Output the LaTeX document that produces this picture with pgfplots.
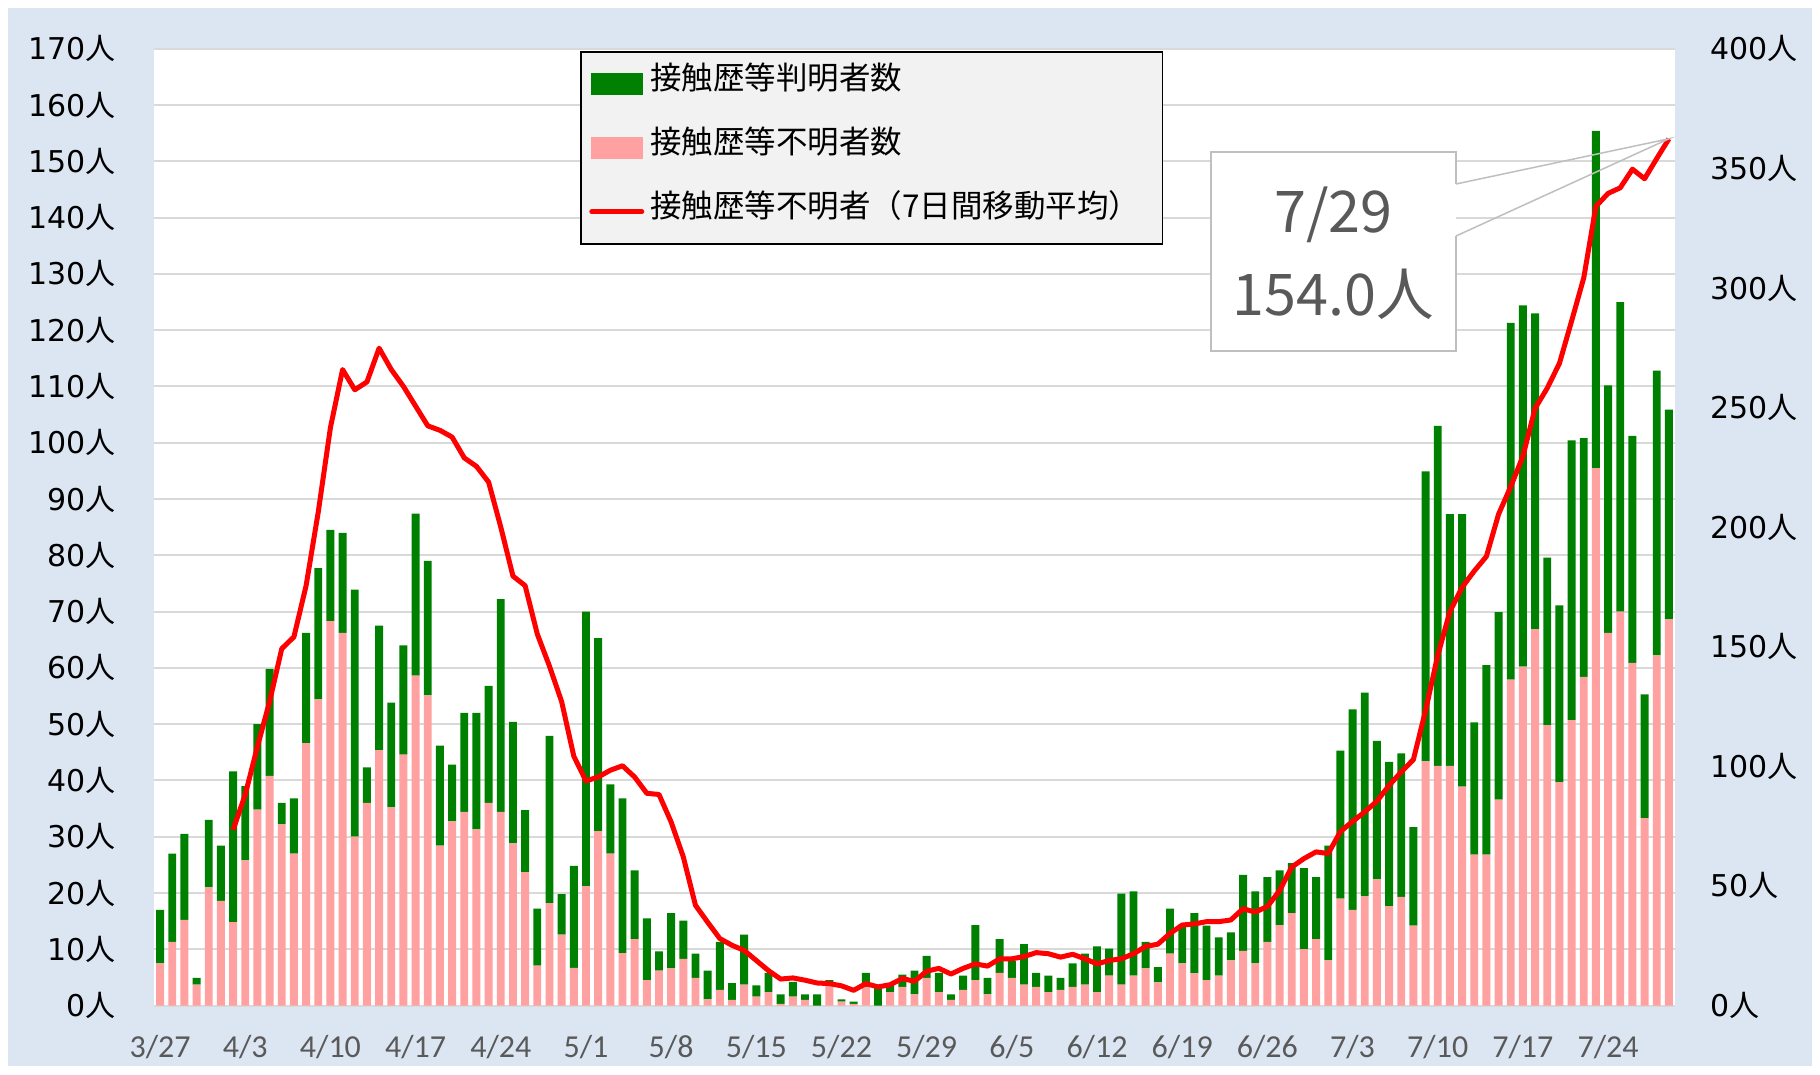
\documentclass[border=0pt]{standalone}
\usepackage{fontspec}
\usepackage{pgfplots}
\usepackage{pgfplotstable}
\pgfplotsset{compat=1.18}
\setmainfont{DejaVu Sans}
\newfontfamily\jp{Noto Sans CJK JP}
\newfontfamily\dv{DejaVu Sans}
\newfontfamily\carl{Carlito}
\definecolor{bgblue}{HTML}{DCE6F2}
\definecolor{gridgray}{HTML}{D9D9D9}
\definecolor{kgreen}{HTML}{008000}
\definecolor{unkpink}{HTML}{FFA1A1}
\definecolor{legfill}{HTML}{F2F2F2}
\definecolor{lblgray}{HTML}{595959}
\definecolor{callgray}{HTML}{BFBFBF}

\pgfplotstableread{
i unk kn
0 7.5 9.5
1 11.3 15.7
2 15.2 15.3
3 3.7 1.2
4 21 12
5 18.6 9.8
6 14.8 26.8
7 25.8 13.2
8 34.8 15.2
9 40.8 19
10 32.2 3.8
11 27 9.8
12 46.6 19.6
13 54.4 23.3
14 68.3 16.2
15 66.2 17.8
16 30 43.9
17 36 6.3
18 45.4 22.1
19 35.2 18.6
20 44.6 19.4
21 58.6 28.8
22 55.1 23.9
23 28.4 17.8
24 32.7 10.1
25 34.4 17.6
26 31.3 20.7
27 36 20.8
28 34.4 37.8
29 28.8 21.6
30 23.7 11
31 7.1 10.1
32 18.2 29.7
33 12.6 7.2
34 6.7 18.1
35 21.2 48.8
36 31 34.3
37 27 12.3
38 9.3 27.5
39 11.8 12.2
40 4.5 11
41 6.2 3.4
42 6.6 9.8
43 8.3 6.8
44 4.9 4.3
45 1.1 5.1
46 2.8 8.5
47 1 3
48 3.7 8.9
49 1.6 2
50 2.4 3.4
51 0.3 1.7
52 1.6 2.6
53 1 1
54 0 2
55 4 0.5
56 0.7 0.4
57 0.3 0.4
58 3.3 2.5
59 0 3.7
60 2.4 1.6
61 3.3 2.2
62 2 4.2
63 4.9 3.9
64 2.4 3.4
65 1 1
66 2.8 2.5
67 4.5 9.8
68 2 2.9
69 5.8 6
70 4.9 3
71 3.7 7.2
72 3.3 2.5
73 2.4 2.9
74 2.8 2.1
75 3.3 4.2
76 3.7 5.5
77 2.4 8.1
78 5.3 4.8
79 3.7 16.2
80 5.3 15
81 6.6 4.7
82 4.1 2.7
83 9.2 8
84 7.5 6.7
85 5.7 10.7
86 4.5 9.7
87 5.3 6.8
88 8 5
89 9.7 13.5
90 7.5 12.8
91 11.3 11.5
92 14.3 9.7
93 16.4 8.9
94 10 14.4
95 11.8 11
96 8 20.4
97 19 26.3
98 17 35.6
99 19.4 36.2
100 22.4 24.6
101 17.6 25.7
102 19.3 25.5
103 14.2 17.5
104 43.4 51.5
105 42.6 60.4
106 42.6 44.7
107 38.9 48.4
108 26.8 23.5
109 26.8 33.7
110 36.6 33.3
111 57.9 63.4
112 60.2 64.2
113 66.9 56.1
114 49.8 29.8
115 39.7 31.4
116 50.7 49.7
117 58.4 42.4
118 95.5 59.9
119 66.2 44
120 70 55
121 60.9 40.3
122 33.3 22
123 62.2 50.6
124 68.6 37.3
}\bars

\pgfplotstableread{
i avg
6 31.2
7 37.5
8 46
9 54
10 63.4
11 65.5
12 74.6
13 87.7
14 102.7
15 113
16 109.4
17 110.8
18 116.8
19 113
20 110
21 106.5
22 103
23 102.2
24 101
25 97.3
26 95.8
27 93
28 85
29 76.3
30 74.6
31 66
32 60.3
33 54
34 44.3
35 39.9
36 40.6
37 41.8
38 42.6
39 40.6
40 37.7
41 37.5
42 32.6
43 26.4
44 17.8
45 14.8
46 11.9
47 10.7
48 9.8
49 8.0
50 6.2
51 4.7
52 4.9
53 4.5
54 4.0
55 3.9
56 3.5
57 2.7
58 3.9
59 3.3
60 3.7
61 4.8
62 4.3
63 6.1
64 6.6
65 5.6
66 6.6
67 7.4
68 7.0
69 8.3
70 8.3
71 8.7
72 9.4
73 9.2
74 8.6
75 9.1
76 8.3
77 7.4
78 8.0
79 8.3
80 9.2
81 10.5
82 10.9
83 12.8
84 14.3
85 14.5
86 14.9
87 14.9
88 15.2
89 17.2
90 16.6
91 17.6
92 20.4
93 24.6
94 26.1
95 27.3
96 27.0
97 30.9
98 32.7
99 34.4
100 36.3
101 39.1
102 41.5
103 43.7
104 52.4
105 62.2
106 70
107 74.3
108 77.2
109 79.8
110 87.3
111 92.2
112 97.6
113 106.1
114 109.7
115 114.1
116 121.6
117 129.3
118 142
119 144.3
120 145.3
121 148.6
122 146.9
123 150.5
124 154.0
}\avg

\begin{document}
\begin{tikzpicture}
\path[use as bounding box, fill=white] (-61.6pt,-27.4pt) rectangle (666.4pt,402.2pt);
\fill[bgblue] (-58.4pt,-24.2pt) rectangle (663.2pt,399pt);

\pgfplotsset{base/.style={width=608.4pt,height=382.7pt,scale only axis,
  xmin=-0.5,xmax=124.5,at={(0pt,0pt)},anchor=south west}}

\begin{axis}[base, ymin=0, ymax=170, ytick={0,10,...,170},
  ymajorgrids, grid style={gridgray,line width=0.8pt},
  axis line style={draw=none}, major tick length=0pt,
  axis background/.style={fill=white},
  xtick={0,7,...,119},
  xticklabels={3/27,4/3,4/10,4/17,4/24,5/1,5/8,5/15,5/22,5/29,6/5,6/12,6/19,6/26,7/3,7/10,7/17,7/24},
  xticklabel style={font=\carl\fontsize{12.8}{14}\selectfont, text=lblgray, anchor=center, yshift=-16.6pt},
  yticklabel={\pgfmathprintnumber[assume math mode=true]{\tick}{\jp 人}},
  yticklabel style={font=\dv\fontsize{12}{14}\selectfont, anchor=east, inner sep=0pt, xshift=-15.2pt},
  ybar stacked, bar width=0.65]
\addplot[fill=unkpink, draw=none] table[x=i,y=unk]{\bars};
\addplot[fill=kgreen, draw=none] table[x=i,y=kn]{\bars};
\end{axis}

\begin{axis}[base, ymin=0, ymax=170, hide axis, legend cell align=left,
  legend style={at={(0.2801,0.9976)}, anchor=north west, fill=legfill, draw=black,
    line width=0.6pt, inner xsep=3.4pt, inner ysep=0pt, row sep=0pt,
    nodes={inner xsep=2.4pt, inner ysep=0pt, minimum height=25.6pt,
      text height=15.2pt, text depth=10.4pt,
      text width=199pt, font=\jp\fontsize{12.6}{14}\selectfont}}]
\addlegendimage{legend image code/.code={\fill[kgreen] (0pt,-4pt) rectangle (20pt,4pt);}}
\addlegendentry{接触歴等判明者数}
\addlegendimage{legend image code/.code={\fill[unkpink] (0pt,-4pt) rectangle (20pt,4pt);}}
\addlegendentry{接触歴等不明者数}
\addplot[red, line width=2pt, line join=round,
  legend image code/.code={\draw[red,line width=2pt,line cap=round] (0pt,0pt) -- (20pt,0pt);}]
  table[x=i,y=avg]{\avg};
\addlegendentry{接触歴等不明者（7日間移動平均）}
\end{axis}

\begin{axis}[base, ymin=0, ymax=400, axis x line=none, axis y line*=right,
  y axis line style={draw=none}, ytick={0,50,...,400}, major tick length=0pt,
  yticklabel={\pgfmathprintnumber[assume math mode=true]{\tick}{\jp 人}},
  yticklabel style={font=\dv\fontsize{12}{14}\selectfont, anchor=west, inner sep=0pt, xshift=14pt}]
\addplot[draw=none] coordinates {(0,0)};
\end{axis}

% callout
\fill[white] (422.8pt,261.8pt) rectangle (520.8pt,341.4pt);
\draw[callgray, line width=0.6pt] (520.8pt,328.6pt) -- (520.8pt,341.4pt) -- (422.8pt,341.4pt)
  -- (422.8pt,261.8pt) -- (520.8pt,261.8pt) -- (520.8pt,307.8pt);
\draw[callgray, line width=0.6pt] (520.8pt,328.6pt) -- (606pt,346.7pt) -- (520.8pt,307.8pt);
\node[text=lblgray, font=\jp\fontsize{23}{26}\selectfont, inner sep=0pt] at (471.8pt,316.2pt) {7/29};
\node[text=lblgray, font=\jp\fontsize{23}{26}\selectfont, inner sep=0pt] at (471.8pt,284.6pt) {154.0人};
\end{tikzpicture}
\end{document}
